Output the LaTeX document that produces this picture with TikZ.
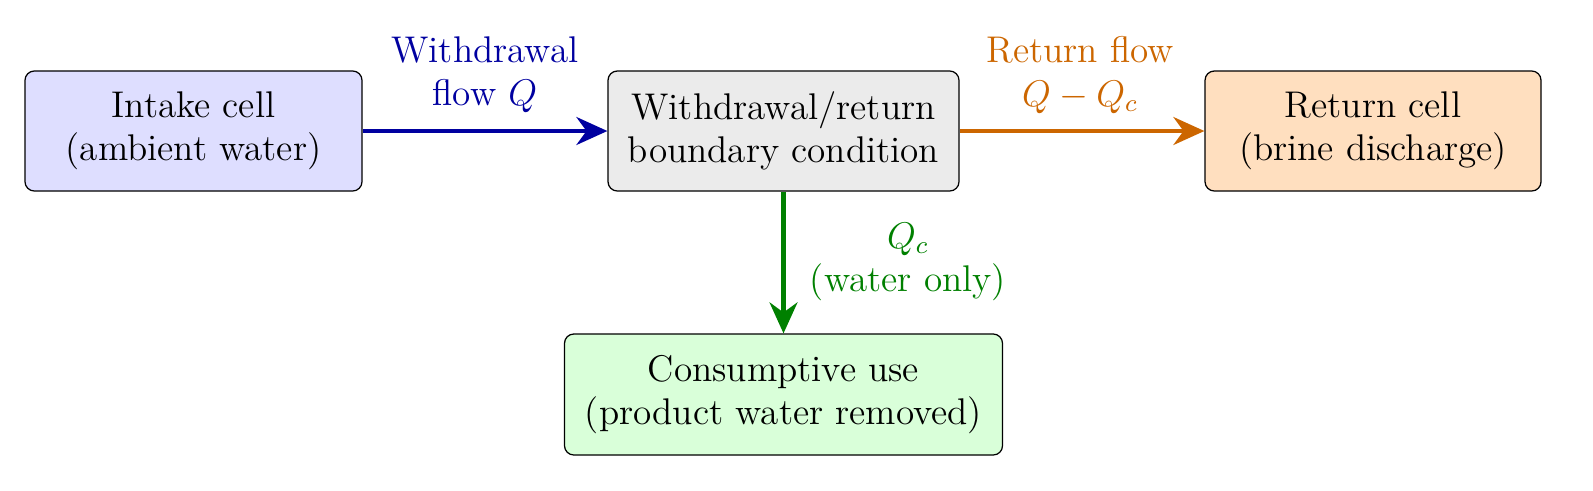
\documentclass[tikz,border=0pt]{standalone}
\usetikzlibrary{arrows.meta}
\begin{document}
\begin{tikzpicture}[x=0.01136cm,y=-0.01136cm,
  box/.style={draw,rounded corners=3pt,align=center,font=\large,inner sep=0pt},
  arr/.style={line width=1.4pt,-{Stealth[length=10pt,width=9pt]}},
  lab/.style={align=center,font=\large}]
\useasboundingbox (0,0) rectangle (1593,490);
\definecolor{cb}{RGB}{0,0,160}
\definecolor{co}{RGB}{204,102,0}
\definecolor{cg}{RGB}{0,128,0}
\node[box,fill=blue!13,minimum width=337*0.01136cm,minimum height=120*0.01136cm] (in) at (193.5,131) {Intake cell\\(ambient water)};
\node[box,fill=black!8,minimum width=351*0.01136cm,minimum height=120*0.01136cm] (bc) at (783.5,131) {Withdrawal/return\\boundary condition};
\node[box,fill=orange!25,minimum width=336*0.01136cm,minimum height=120*0.01136cm] (rc) at (1373,131) {Return cell\\(brine discharge)};
\node[box,fill=green!15,minimum width=438*0.01136cm,minimum height=121*0.01136cm] (cu) at (783.5,394.5) {Consumptive use\\(product water removed)};
\draw[arr,cb] (in) -- (bc);
\draw[arr,co] (bc) -- (rc);
\draw[arr,cg] (bc) -- (cu);
\node[lab,text=cb] (l1) at (485,75) {Withdrawal\\flow $Q$};
\node[lab,text=co] (l2) at (1080,75) {Return flow\\$Q-Q_c$};
\node[lab,text=cg] (l3) at (908,262) {$Q_c$\\(water only)};
\end{tikzpicture}
\end{document}
